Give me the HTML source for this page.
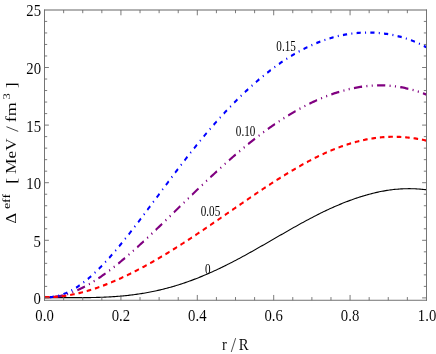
<!DOCTYPE html>
<html><head><meta charset="utf-8"><title>plot</title>
<style>
html,body{margin:0;padding:0;background:#fff;}
svg{display:block;will-change:transform;}
text{font-family:"Liberation Serif",serif;fill:#000;stroke:#fff;stroke-width:0.06px;paint-order:fill stroke;}
</style></head><body>
<svg width="436" height="354" viewBox="0 0 531.707 354" preserveAspectRatio="none">
<rect x="0" y="0" width="531.707" height="354" fill="#fff"/>
<defs><clipPath id="c"><rect x="54.33" y="10.0" width="465.73" height="290.27"/></clipPath></defs>

<g clip-path="url(#c)" fill="none" stroke-linejoin="round">
<path d="M54.33,297.60 L55.88,297.60 L57.43,297.59 L58.99,297.59 L60.54,297.59 L62.09,297.59 L63.64,297.59 L65.20,297.60 L66.75,297.60 L68.30,297.60 L69.85,297.61 L71.41,297.61 L72.96,297.62 L74.51,297.63 L76.06,297.63 L77.62,297.64 L79.17,297.64 L80.72,297.65 L82.27,297.65 L83.83,297.66 L85.38,297.66 L86.93,297.67 L88.48,297.67 L90.04,297.67 L91.59,297.67 L93.14,297.67 L94.69,297.67 L96.25,297.67 L97.80,297.67 L99.35,297.66 L100.90,297.65 L102.45,297.64 L104.01,297.63 L105.56,297.62 L107.11,297.60 L108.66,297.59 L110.22,297.57 L111.77,297.54 L113.32,297.52 L114.87,297.49 L116.43,297.46 L117.98,297.43 L119.53,297.39 L121.08,297.35 L122.64,297.31 L124.19,297.26 L125.74,297.21 L127.29,297.16 L128.85,297.10 L130.40,297.04 L131.95,296.98 L133.50,296.91 L135.06,296.83 L136.61,296.76 L138.16,296.67 L139.71,296.59 L141.27,296.50 L142.82,296.40 L144.37,296.30 L145.92,296.20 L147.48,296.09 L149.03,295.97 L150.58,295.85 L152.13,295.73 L153.69,295.60 L155.24,295.46 L156.79,295.32 L158.34,295.17 L159.90,295.02 L161.45,294.86 L163.00,294.70 L164.55,294.53 L166.10,294.36 L167.66,294.17 L169.21,293.99 L170.76,293.79 L172.31,293.59 L173.87,293.39 L175.42,293.18 L176.97,292.96 L178.52,292.73 L180.08,292.50 L181.63,292.27 L183.18,292.02 L184.73,291.77 L186.29,291.51 L187.84,291.25 L189.39,290.98 L190.94,290.70 L192.50,290.42 L194.05,290.13 L195.60,289.83 L197.15,289.52 L198.71,289.21 L200.26,288.89 L201.81,288.57 L203.36,288.24 L204.92,287.90 L206.47,287.55 L208.02,287.20 L209.57,286.84 L211.13,286.47 L212.68,286.09 L214.23,285.71 L215.78,285.32 L217.34,284.93 L218.89,284.53 L220.44,284.12 L221.99,283.70 L223.55,283.28 L225.10,282.85 L226.65,282.41 L228.20,281.96 L229.75,281.51 L231.31,281.05 L232.86,280.59 L234.41,280.12 L235.96,279.64 L237.52,279.15 L239.07,278.66 L240.62,278.16 L242.17,277.66 L243.73,277.15 L245.28,276.63 L246.83,276.10 L248.38,275.57 L249.94,275.04 L251.49,274.49 L253.04,273.94 L254.59,273.39 L256.15,272.82 L257.70,272.25 L259.25,271.68 L260.80,271.10 L262.36,270.51 L263.91,269.92 L265.46,269.33 L267.01,268.72 L268.57,268.11 L270.12,267.50 L271.67,266.88 L273.22,266.26 L274.78,265.63 L276.33,264.99 L277.88,264.35 L279.43,263.71 L280.99,263.06 L282.54,262.41 L284.09,261.75 L285.64,261.08 L287.20,260.42 L288.75,259.75 L290.30,259.07 L291.85,258.39 L293.40,257.71 L294.96,257.02 L296.51,256.33 L298.06,255.64 L299.61,254.94 L301.17,254.24 L302.72,253.54 L304.27,252.83 L305.82,252.12 L307.38,251.41 L308.93,250.70 L310.48,249.98 L312.03,249.26 L313.59,248.54 L315.14,247.82 L316.69,247.09 L318.24,246.36 L319.80,245.63 L321.35,244.90 L322.90,244.17 L324.45,243.44 L326.01,242.71 L327.56,241.97 L329.11,241.24 L330.66,240.50 L332.22,239.77 L333.77,239.03 L335.32,238.30 L336.87,237.56 L338.43,236.82 L339.98,236.09 L341.53,235.35 L343.08,234.62 L344.64,233.89 L346.19,233.15 L347.74,232.42 L349.29,231.69 L350.85,230.97 L352.40,230.24 L353.95,229.51 L355.50,228.79 L357.05,228.07 L358.61,227.35 L360.16,226.64 L361.71,225.93 L363.26,225.22 L364.82,224.51 L366.37,223.80 L367.92,223.10 L369.47,222.41 L371.03,221.71 L372.58,221.02 L374.13,220.34 L375.68,219.66 L377.24,218.98 L378.79,218.31 L380.34,217.64 L381.89,216.97 L383.45,216.31 L385.00,215.66 L386.55,215.01 L388.10,214.37 L389.66,213.73 L391.21,213.10 L392.76,212.47 L394.31,211.85 L395.87,211.24 L397.42,210.63 L398.97,210.03 L400.52,209.43 L402.08,208.84 L403.63,208.26 L405.18,207.69 L406.73,207.12 L408.29,206.56 L409.84,206.00 L411.39,205.46 L412.94,204.92 L414.50,204.38 L416.05,203.86 L417.60,203.34 L419.15,202.83 L420.70,202.33 L422.26,201.83 L423.81,201.35 L425.36,200.87 L426.91,200.39 L428.47,199.93 L430.02,199.47 L431.57,199.02 L433.12,198.58 L434.68,198.15 L436.23,197.73 L437.78,197.31 L439.33,196.90 L440.89,196.50 L442.44,196.10 L443.99,195.72 L445.54,195.34 L447.10,194.98 L448.65,194.62 L450.20,194.27 L451.75,193.93 L453.31,193.60 L454.86,193.28 L456.41,192.97 L457.96,192.67 L459.52,192.37 L461.07,192.09 L462.62,191.82 L464.17,191.56 L465.73,191.31 L467.28,191.08 L468.83,190.85 L470.38,190.63 L471.94,190.42 L473.49,190.23 L475.04,190.05 L476.59,189.87 L478.15,189.71 L479.70,189.56 L481.25,189.43 L482.80,189.30 L484.35,189.19 L485.91,189.08 L487.46,188.99 L489.01,188.91 L490.56,188.84 L492.12,188.79 L493.67,188.74 L495.22,188.71 L496.77,188.69 L498.33,188.68 L499.88,188.68 L501.43,188.70 L502.98,188.72 L504.54,188.76 L506.09,188.81 L507.64,188.87 L509.19,188.94 L510.75,189.02 L512.30,189.11 L513.85,189.22 L515.40,189.33 L516.96,189.46 L518.51,189.59 L520.06,189.74" stroke="#000" stroke-width="1.12"/>
<path d="M520.06,94.59 L518.51,94.09 L516.96,93.60 L515.40,93.13 L513.85,92.67 L512.30,92.23 L510.75,91.80 L509.19,91.38 L507.64,90.98 L506.09,90.59 L504.54,90.22 L502.98,89.86 L501.43,89.51 L499.88,89.18 L498.33,88.86 L496.77,88.55 L495.22,88.26 L493.67,87.98 L492.12,87.72 L490.56,87.47 L489.01,87.24 L487.46,87.01 L485.91,86.81 L484.35,86.61 L482.80,86.43 L481.25,86.26 L479.70,86.11 L478.15,85.97 L476.59,85.85 L475.04,85.74 L473.49,85.64 L471.94,85.56 L470.38,85.49 L468.83,85.43 L467.28,85.39 L465.73,85.37 L464.17,85.36 L462.62,85.36 L461.07,85.37 L459.52,85.40 L457.96,85.44 L456.41,85.50 L454.86,85.56 L453.31,85.64 L451.75,85.74 L450.20,85.84 L448.65,85.96 L447.10,86.10 L445.54,86.24 L443.99,86.40 L442.44,86.57 L440.89,86.75 L439.33,86.94 L437.78,87.15 L436.23,87.36 L434.68,87.59 L433.12,87.84 L431.57,88.09 L430.02,88.35 L428.47,88.63 L426.91,88.92 L425.36,89.22 L423.81,89.53 L422.26,89.85 L420.70,90.18 L419.15,90.52 L417.60,90.88 L416.05,91.24 L414.50,91.62 L412.94,92.01 L411.39,92.40 L409.84,92.81 L408.29,93.23 L406.73,93.66 L405.18,94.10 L403.63,94.55 L402.08,95.01 L400.52,95.49 L398.97,95.97 L397.42,96.46 L395.87,96.96 L394.31,97.48 L392.76,98.00 L391.21,98.53 L389.66,99.07 L388.10,99.63 L386.55,100.19 L385.00,100.76 L383.45,101.35 L381.89,101.94 L380.34,102.54 L378.79,103.15 L377.24,103.78 L375.68,104.41 L374.13,105.05 L372.58,105.70 L371.03,106.36 L369.47,107.03 L367.92,107.71 L366.37,108.40 L364.82,109.10 L363.26,109.80 L361.71,110.52 L360.16,111.25 L358.61,111.98 L357.05,112.72 L355.50,113.48 L353.95,114.24 L352.40,115.01 L350.85,115.79 L349.29,116.58 L347.74,117.38 L346.19,118.18 L344.64,119.00 L343.08,119.82 L341.53,120.65 L339.98,121.49 L338.43,122.34 L336.87,123.20 L335.32,124.07 L333.77,124.94 L332.22,125.82 L330.66,126.71 L329.11,127.61 L327.56,128.52 L326.01,129.43 L324.45,130.36 L322.90,131.29 L321.35,132.22 L319.80,133.17 L318.24,134.12 L316.69,135.09 L315.14,136.05 L313.59,137.03 L312.03,138.01 L310.48,139.01 L308.93,140.00 L307.38,141.01 L305.82,142.02 L304.27,143.04 L302.72,144.07 L301.17,145.10 L299.61,146.14 L298.06,147.19 L296.51,148.24 L294.96,149.30 L293.40,150.37 L291.85,151.44 L290.30,152.52 L288.75,153.60 L287.20,154.69 L285.64,155.79 L284.09,156.89 L282.54,158.00 L280.99,159.12 L279.43,160.24 L277.88,161.36 L276.33,162.49 L274.78,163.63 L273.22,164.77 L271.67,165.91 L270.12,167.06 L268.57,168.22 L267.01,169.38 L265.46,170.55 L263.91,171.71 L262.36,172.89 L260.80,174.07 L259.25,175.25 L257.70,176.43 L256.15,177.62 L254.59,178.82 L253.04,180.01 L251.49,181.21 L249.94,182.42 L248.38,183.62 L246.83,184.83 L245.28,186.04 L243.73,187.26 L242.17,188.48 L240.62,189.70 L239.07,190.92 L237.52,192.15 L235.96,193.37 L234.41,194.60 L232.86,195.83 L231.31,197.07 L229.75,198.30 L228.20,199.54 L226.65,200.77 L225.10,202.01 L223.55,203.25 L221.99,204.49 L220.44,205.73 L218.89,206.97 L217.34,208.21 L215.78,209.45 L214.23,210.69 L212.68,211.93 L211.13,213.17 L209.57,214.41 L208.02,215.65 L206.47,216.89 L204.92,218.13 L203.36,219.36 L201.81,220.60 L200.26,221.83 L198.71,223.06 L197.15,224.29 L195.60,225.52 L194.05,226.74 L192.50,227.96 L190.94,229.18 L189.39,230.40 L187.84,231.61 L186.29,232.82 L184.73,234.03 L183.18,235.23 L181.63,236.43 L180.08,237.63 L178.52,238.82 L176.97,240.00 L175.42,241.18 L173.87,242.36 L172.31,243.53 L170.76,244.70 L169.21,245.86 L167.66,247.01 L166.10,248.16 L164.55,249.30 L163.00,250.44 L161.45,251.56 L159.90,252.69 L158.34,253.80 L156.79,254.91 L155.24,256.01 L153.69,257.10 L152.13,258.18 L150.58,259.25 L149.03,260.32 L147.48,261.38 L145.92,262.43 L144.37,263.46 L142.82,264.49 L141.27,265.51 L139.71,266.52 L138.16,267.52 L136.61,268.51 L135.06,269.49 L133.50,270.45 L131.95,271.41 L130.40,272.35 L128.85,273.28 L127.29,274.20 L125.74,275.11 L124.19,276.00 L122.64,276.88 L121.08,277.75 L119.53,278.61 L117.98,279.45 L116.43,280.27 L114.87,281.08 L113.32,281.88 L111.77,282.66 L110.22,283.43 L108.66,284.18 L107.11,284.91 L105.56,285.62 L104.01,286.32 L102.45,287.00 L100.90,287.66 L99.35,288.31 L97.80,288.93 L96.25,289.54 L94.69,290.12 L93.14,290.69 L91.59,291.23 L90.04,291.76 L88.48,292.26 L86.93,292.74 L85.38,293.20 L83.83,293.64 L82.27,294.05 L80.72,294.44 L79.17,294.81 L77.62,295.15 L76.06,295.47 L74.51,295.76 L72.96,296.03 L71.41,296.27 L69.85,296.49 L68.30,296.68 L66.75,296.84 L65.20,296.98 L63.64,297.08 L62.09,297.16 L60.54,297.21 L58.99,297.24 L57.43,297.23 L55.88,297.19 L54.33,297.13" stroke="#800080" stroke-width="2.3" stroke-dasharray="10 5.25 1.3 5.25 1.3 5.25" stroke-dashoffset="5.5"/>
<path d="M520.06,47.31 L518.51,46.63 L516.96,45.96 L515.40,45.32 L513.85,44.69 L512.30,44.08 L510.75,43.49 L509.19,42.92 L507.64,42.36 L506.09,41.82 L504.54,41.30 L502.98,40.79 L501.43,40.30 L499.88,39.83 L498.33,39.38 L496.77,38.94 L495.22,38.51 L493.67,38.10 L492.12,37.71 L490.56,37.33 L489.01,36.97 L487.46,36.62 L485.91,36.29 L484.35,35.97 L482.80,35.67 L481.25,35.38 L479.70,35.11 L478.15,34.85 L476.59,34.60 L475.04,34.37 L473.49,34.15 L471.94,33.95 L470.38,33.76 L468.83,33.58 L467.28,33.42 L465.73,33.27 L464.17,33.13 L462.62,33.01 L461.07,32.90 L459.52,32.81 L457.96,32.72 L456.41,32.65 L454.86,32.60 L453.31,32.56 L451.75,32.53 L450.20,32.51 L448.65,32.51 L447.10,32.51 L445.54,32.54 L443.99,32.57 L442.44,32.62 L440.89,32.68 L439.33,32.75 L437.78,32.84 L436.23,32.94 L434.68,33.05 L433.12,33.18 L431.57,33.31 L430.02,33.46 L428.47,33.63 L426.91,33.80 L425.36,33.99 L423.81,34.19 L422.26,34.41 L420.70,34.64 L419.15,34.88 L417.60,35.13 L416.05,35.39 L414.50,35.67 L412.94,35.96 L411.39,36.27 L409.84,36.59 L408.29,36.92 L406.73,37.26 L405.18,37.62 L403.63,37.99 L402.08,38.37 L400.52,38.76 L398.97,39.17 L397.42,39.59 L395.87,40.03 L394.31,40.47 L392.76,40.93 L391.21,41.41 L389.66,41.89 L388.10,42.39 L386.55,42.90 L385.00,43.42 L383.45,43.96 L381.89,44.51 L380.34,45.07 L378.79,45.64 L377.24,46.23 L375.68,46.83 L374.13,47.44 L372.58,48.07 L371.03,48.71 L369.47,49.36 L367.92,50.02 L366.37,50.70 L364.82,51.39 L363.26,52.09 L361.71,52.81 L360.16,53.53 L358.61,54.27 L357.05,55.03 L355.50,55.79 L353.95,56.57 L352.40,57.36 L350.85,58.16 L349.29,58.98 L347.74,59.81 L346.19,60.65 L344.64,61.50 L343.08,62.36 L341.53,63.24 L339.98,64.13 L338.43,65.03 L336.87,65.95 L335.32,66.88 L333.77,67.81 L332.22,68.77 L330.66,69.73 L329.11,70.70 L327.56,71.69 L326.01,72.69 L324.45,73.70 L322.90,74.73 L321.35,75.76 L319.80,76.81 L318.24,77.87 L316.69,78.94 L315.14,80.02 L313.59,81.11 L312.03,82.21 L310.48,83.33 L308.93,84.46 L307.38,85.60 L305.82,86.75 L304.27,87.91 L302.72,89.08 L301.17,90.26 L299.61,91.45 L298.06,92.66 L296.51,93.87 L294.96,95.10 L293.40,96.33 L291.85,97.58 L290.30,98.83 L288.75,100.10 L287.20,101.38 L285.64,102.66 L284.09,103.96 L282.54,105.27 L280.99,106.58 L279.43,107.91 L277.88,109.25 L276.33,110.60 L274.78,111.95 L273.22,113.32 L271.67,114.70 L270.12,116.09 L268.57,117.49 L267.01,118.89 L265.46,120.31 L263.91,121.74 L262.36,123.18 L260.80,124.63 L259.25,126.08 L257.70,127.55 L256.15,129.03 L254.59,130.51 L253.04,132.01 L251.49,133.51 L249.94,135.03 L248.38,136.55 L246.83,138.09 L245.28,139.63 L243.73,141.18 L242.17,142.74 L240.62,144.31 L239.07,145.88 L237.52,147.47 L235.96,149.06 L234.41,150.66 L232.86,152.27 L231.31,153.88 L229.75,155.50 L228.20,157.13 L226.65,158.77 L225.10,160.41 L223.55,162.06 L221.99,163.71 L220.44,165.37 L218.89,167.03 L217.34,168.70 L215.78,170.38 L214.23,172.06 L212.68,173.74 L211.13,175.43 L209.57,177.12 L208.02,178.81 L206.47,180.51 L204.92,182.21 L203.36,183.91 L201.81,185.62 L200.26,187.32 L198.71,189.03 L197.15,190.74 L195.60,192.45 L194.05,194.16 L192.50,195.88 L190.94,197.59 L189.39,199.30 L187.84,201.01 L186.29,202.72 L184.73,204.43 L183.18,206.14 L181.63,207.85 L180.08,209.55 L178.52,211.25 L176.97,212.95 L175.42,214.65 L173.87,216.34 L172.31,218.03 L170.76,219.71 L169.21,221.39 L167.66,223.06 L166.10,224.73 L164.55,226.39 L163.00,228.04 L161.45,229.69 L159.90,231.33 L158.34,232.96 L156.79,234.58 L155.24,236.19 L153.69,237.80 L152.13,239.39 L150.58,240.97 L149.03,242.55 L147.48,244.11 L145.92,245.66 L144.37,247.19 L142.82,248.71 L141.27,250.22 L139.71,251.72 L138.16,253.20 L136.61,254.67 L135.06,256.12 L133.50,257.55 L131.95,258.97 L130.40,260.37 L128.85,261.75 L127.29,263.12 L125.74,264.47 L124.19,265.79 L122.64,267.10 L121.08,268.39 L119.53,269.66 L117.98,270.90 L116.43,272.13 L114.87,273.33 L113.32,274.50 L111.77,275.66 L110.22,276.79 L108.66,277.90 L107.11,278.98 L105.56,280.03 L104.01,281.06 L102.45,282.06 L100.90,283.04 L99.35,283.98 L97.80,284.90 L96.25,285.79 L94.69,286.65 L93.14,287.49 L91.59,288.29 L90.04,289.06 L88.48,289.79 L86.93,290.50 L85.38,291.17 L83.83,291.82 L82.27,292.42 L80.72,293.00 L79.17,293.53 L77.62,294.04 L76.06,294.50 L74.51,294.94 L72.96,295.33 L71.41,295.69 L69.85,296.01 L68.30,296.29 L66.75,296.53 L65.20,296.73 L63.64,296.89 L62.09,297.01 L60.54,297.09 L58.99,297.13 L57.43,297.13 L55.88,297.08 L54.33,296.99" stroke="#0000ff" stroke-width="2.25" stroke-dasharray="5.1 5.2 1.25 5.2" stroke-dashoffset="1.6"/>
<path d="M520.06,140.62 L518.51,140.34 L516.96,140.06 L515.40,139.80 L513.85,139.54 L512.30,139.29 L510.75,139.06 L509.19,138.84 L507.64,138.62 L506.09,138.42 L504.54,138.23 L502.98,138.06 L501.43,137.89 L499.88,137.73 L498.33,137.59 L496.77,137.45 L495.22,137.33 L493.67,137.22 L492.12,137.12 L490.56,137.04 L489.01,136.96 L487.46,136.90 L485.91,136.85 L484.35,136.81 L482.80,136.78 L481.25,136.77 L479.70,136.76 L478.15,136.77 L476.59,136.79 L475.04,136.82 L473.49,136.87 L471.94,136.92 L470.38,136.99 L468.83,137.07 L467.28,137.16 L465.73,137.27 L464.17,137.38 L462.62,137.51 L461.07,137.65 L459.52,137.80 L457.96,137.96 L456.41,138.13 L454.86,138.32 L453.31,138.52 L451.75,138.73 L450.20,138.95 L448.65,139.18 L447.10,139.42 L445.54,139.68 L443.99,139.94 L442.44,140.22 L440.89,140.51 L439.33,140.81 L437.78,141.12 L436.23,141.44 L434.68,141.77 L433.12,142.11 L431.57,142.47 L430.02,142.83 L428.47,143.21 L426.91,143.59 L425.36,143.99 L423.81,144.39 L422.26,144.81 L420.70,145.24 L419.15,145.67 L417.60,146.12 L416.05,146.57 L414.50,147.04 L412.94,147.52 L411.39,148.00 L409.84,148.50 L408.29,149.00 L406.73,149.51 L405.18,150.03 L403.63,150.57 L402.08,151.11 L400.52,151.66 L398.97,152.21 L397.42,152.78 L395.87,153.36 L394.31,153.94 L392.76,154.53 L391.21,155.13 L389.66,155.74 L388.10,156.35 L386.55,156.98 L385.00,157.61 L383.45,158.25 L381.89,158.89 L380.34,159.55 L378.79,160.21 L377.24,160.88 L375.68,161.55 L374.13,162.23 L372.58,162.92 L371.03,163.62 L369.47,164.32 L367.92,165.03 L366.37,165.74 L364.82,166.46 L363.26,167.19 L361.71,167.92 L360.16,168.66 L358.61,169.41 L357.05,170.16 L355.50,170.91 L353.95,171.67 L352.40,172.44 L350.85,173.21 L349.29,173.99 L347.74,174.77 L346.19,175.55 L344.64,176.34 L343.08,177.14 L341.53,177.94 L339.98,178.74 L338.43,179.55 L336.87,180.36 L335.32,181.17 L333.77,181.99 L332.22,182.82 L330.66,183.64 L329.11,184.47 L327.56,185.30 L326.01,186.14 L324.45,186.98 L322.90,187.82 L321.35,188.67 L319.80,189.51 L318.24,190.36 L316.69,191.22 L315.14,192.07 L313.59,192.93 L312.03,193.79 L310.48,194.65 L308.93,195.51 L307.38,196.38 L305.82,197.25 L304.27,198.12 L302.72,198.99 L301.17,199.86 L299.61,200.73 L298.06,201.61 L296.51,202.48 L294.96,203.36 L293.40,204.23 L291.85,205.11 L290.30,205.99 L288.75,206.87 L287.20,207.75 L285.64,208.63 L284.09,209.51 L282.54,210.39 L280.99,211.27 L279.43,212.15 L277.88,213.03 L276.33,213.91 L274.78,214.79 L273.22,215.67 L271.67,216.55 L270.12,217.43 L268.57,218.31 L267.01,219.18 L265.46,220.06 L263.91,220.94 L262.36,221.81 L260.80,222.68 L259.25,223.55 L257.70,224.43 L256.15,225.29 L254.59,226.16 L253.04,227.03 L251.49,227.89 L249.94,228.76 L248.38,229.62 L246.83,230.48 L245.28,231.33 L243.73,232.19 L242.17,233.04 L240.62,233.89 L239.07,234.74 L237.52,235.59 L235.96,236.43 L234.41,237.27 L232.86,238.11 L231.31,238.95 L229.75,239.78 L228.20,240.61 L226.65,241.44 L225.10,242.26 L223.55,243.08 L221.99,243.90 L220.44,244.72 L218.89,245.53 L217.34,246.34 L215.78,247.14 L214.23,247.94 L212.68,248.74 L211.13,249.54 L209.57,250.33 L208.02,251.11 L206.47,251.90 L204.92,252.68 L203.36,253.45 L201.81,254.22 L200.26,254.99 L198.71,255.75 L197.15,256.51 L195.60,257.27 L194.05,258.02 L192.50,258.76 L190.94,259.51 L189.39,260.24 L187.84,260.97 L186.29,261.70 L184.73,262.42 L183.18,263.14 L181.63,263.85 L180.08,264.56 L178.52,265.27 L176.97,265.96 L175.42,266.66 L173.87,267.34 L172.31,268.02 L170.76,268.70 L169.21,269.37 L167.66,270.04 L166.10,270.70 L164.55,271.35 L163.00,272.00 L161.45,272.64 L159.90,273.28 L158.34,273.91 L156.79,274.53 L155.24,275.15 L153.69,275.76 L152.13,276.37 L150.58,276.97 L149.03,277.56 L147.48,278.14 L145.92,278.72 L144.37,279.30 L142.82,279.86 L141.27,280.42 L139.71,280.97 L138.16,281.52 L136.61,282.06 L135.06,282.59 L133.50,283.11 L131.95,283.62 L130.40,284.13 L128.85,284.63 L127.29,285.12 L125.74,285.61 L124.19,286.08 L122.64,286.55 L121.08,287.01 L119.53,287.46 L117.98,287.91 L116.43,288.34 L114.87,288.77 L113.32,289.19 L111.77,289.59 L110.22,289.99 L108.66,290.38 L107.11,290.77 L105.56,291.14 L104.01,291.50 L102.45,291.85 L100.90,292.19 L99.35,292.53 L97.80,292.85 L96.25,293.16 L94.69,293.46 L93.14,293.75 L91.59,294.04 L90.04,294.30 L88.48,294.56 L86.93,294.81 L85.38,295.05 L83.83,295.27 L82.27,295.48 L80.72,295.69 L79.17,295.87 L77.62,296.05 L76.06,296.22 L74.51,296.37 L72.96,296.51 L71.41,296.63 L69.85,296.74 L68.30,296.84 L66.75,296.93 L65.20,297.00 L63.64,297.06 L62.09,297.10 L60.54,297.13 L58.99,297.14 L57.43,297.14 L55.88,297.13 L54.33,297.09" stroke="#ff0000" stroke-width="2.15" stroke-dasharray="5.6 4.7"/>
</g>
<path d="M77.62,300.27 v-3.2 M77.62,10.0 v3.2 M100.90,300.27 v-3.2 M100.90,10.0 v3.2 M124.19,300.27 v-3.2 M124.19,10.0 v3.2 M147.48,300.27 v-5.3 M147.48,10.0 v5.3 M170.76,300.27 v-3.2 M170.76,10.0 v3.2 M194.05,300.27 v-3.2 M194.05,10.0 v3.2 M217.34,300.27 v-3.2 M217.34,10.0 v3.2 M240.62,300.27 v-5.3 M240.62,10.0 v5.3 M263.91,300.27 v-3.2 M263.91,10.0 v3.2 M287.20,300.27 v-3.2 M287.20,10.0 v3.2 M310.48,300.27 v-3.2 M310.48,10.0 v3.2 M333.77,300.27 v-5.3 M333.77,10.0 v5.3 M357.05,300.27 v-3.2 M357.05,10.0 v3.2 M380.34,300.27 v-3.2 M380.34,10.0 v3.2 M403.63,300.27 v-3.2 M403.63,10.0 v3.2 M426.91,300.27 v-5.3 M426.91,10.0 v5.3 M450.20,300.27 v-3.2 M450.20,10.0 v3.2 M473.49,300.27 v-3.2 M473.49,10.0 v3.2 M496.77,300.27 v-3.2 M496.77,10.0 v3.2 M54.33,297.90 h5.3 M520.06,297.90 h-5.3 M54.33,286.38 h3.2 M520.06,286.38 h-3.2 M54.33,274.86 h3.2 M520.06,274.86 h-3.2 M54.33,263.34 h3.2 M520.06,263.34 h-3.2 M54.33,251.82 h3.2 M520.06,251.82 h-3.2 M54.33,240.30 h5.3 M520.06,240.30 h-5.3 M54.33,228.78 h3.2 M520.06,228.78 h-3.2 M54.33,217.26 h3.2 M520.06,217.26 h-3.2 M54.33,205.74 h3.2 M520.06,205.74 h-3.2 M54.33,194.22 h3.2 M520.06,194.22 h-3.2 M54.33,182.70 h5.3 M520.06,182.70 h-5.3 M54.33,171.18 h3.2 M520.06,171.18 h-3.2 M54.33,159.66 h3.2 M520.06,159.66 h-3.2 M54.33,148.14 h3.2 M520.06,148.14 h-3.2 M54.33,136.62 h3.2 M520.06,136.62 h-3.2 M54.33,125.10 h5.3 M520.06,125.10 h-5.3 M54.33,113.58 h3.2 M520.06,113.58 h-3.2 M54.33,102.06 h3.2 M520.06,102.06 h-3.2 M54.33,90.54 h3.2 M520.06,90.54 h-3.2 M54.33,79.02 h3.2 M520.06,79.02 h-3.2 M54.33,67.50 h5.3 M520.06,67.50 h-5.3 M54.33,55.98 h3.2 M520.06,55.98 h-3.2 M54.33,44.46 h3.2 M520.06,44.46 h-3.2 M54.33,32.94 h3.2 M520.06,32.94 h-3.2 M54.33,21.42 h3.2 M520.06,21.42 h-3.2" stroke="#666666" stroke-width="0.95" fill="none"/>
<path d="M53.78,10.0 H520.61" stroke="#666666" stroke-width="1.1" fill="none"/>
<path d="M53.78,300.27 H520.61" stroke="#666666" stroke-width="1.0" fill="none"/>
<path d="M54.33,9.45 V300.77 M520.06,9.45 V300.77" stroke="#666666" stroke-width="1.1" fill="none"/>
<text transform="translate(50.00,304.35) scale(1,0.975)" font-size="18" text-anchor="end">0</text>
<text transform="translate(50.00,246.75) scale(1,0.975)" font-size="18" text-anchor="end">5</text>
<text transform="translate(50.00,189.15) scale(1,0.975)" font-size="18" text-anchor="end">10</text>
<text transform="translate(50.00,131.55) scale(1,0.975)" font-size="18" text-anchor="end">15</text>
<text transform="translate(50.00,73.95) scale(1,0.975)" font-size="18" text-anchor="end">20</text>
<text transform="translate(50.00,16.35) scale(1,0.975)" font-size="18" text-anchor="end">25</text>
<text transform="translate(54.33,321.35) scale(1,0.975)" font-size="18" text-anchor="middle">0.0</text>
<text transform="translate(147.48,321.35) scale(1,0.975)" font-size="18" text-anchor="middle">0.2</text>
<text transform="translate(240.62,321.35) scale(1,0.975)" font-size="18" text-anchor="middle">0.4</text>
<text transform="translate(333.77,321.35) scale(1,0.975)" font-size="18" text-anchor="middle">0.6</text>
<text transform="translate(426.91,321.35) scale(1,0.975)" font-size="18" text-anchor="middle">0.8</text>
<text transform="translate(520.79,321.35) scale(1,0.975)" font-size="18" text-anchor="middle">1.0</text>
<text transform="translate(270.73,349.6) scale(1,0.975)" font-size="18">r</text>
<text transform="translate(291.20,349.6) scale(1,0.975)" font-size="18">R</text>
<path d="M282.01,352.0 L287.38,338.1" stroke="#000" stroke-width="0.75" fill="none"/>
<text transform="translate(20.00,223.80) rotate(-90)" font-size="16.8">Δ</text>
<text style="stroke:none" transform="translate(12.44,209.10) rotate(-90) scale(1.08,1)" font-size="12.8">eff</text>
<text transform="translate(20.00,183.80) rotate(-90)" font-size="18">[</text>
<text transform="translate(20.00,174.00) rotate(-90) scale(0.967,1)" font-size="18">MeV</text>
<path d="M7.84,126.7 L22.20,131.4" stroke="#000" stroke-width="0.8" fill="none"/>
<text transform="translate(20.00,122.30) rotate(-90)" font-size="18">fm</text>
<text transform="translate(12.44,99.60) rotate(-90)" font-size="12.6">3</text>
<text transform="translate(20.00,88.35) rotate(-90)" font-size="18">]</text>
<text transform="translate(253.29,273.6) scale(1.0000,1)" font-size="13.6" text-anchor="middle" style="stroke:none">0</text>
<text transform="translate(256.71,216.4) scale(1.0000,1)" font-size="13.6" text-anchor="middle" style="stroke:none">0.05</text>
<text transform="translate(299.51,135.6) scale(1.0000,1)" font-size="13.6" text-anchor="middle" style="stroke:none">0.10</text>
<text transform="translate(348.90,51.0) scale(1.0000,1)" font-size="13.6" text-anchor="middle" style="stroke:none">0.15</text>
</svg></body></html>
